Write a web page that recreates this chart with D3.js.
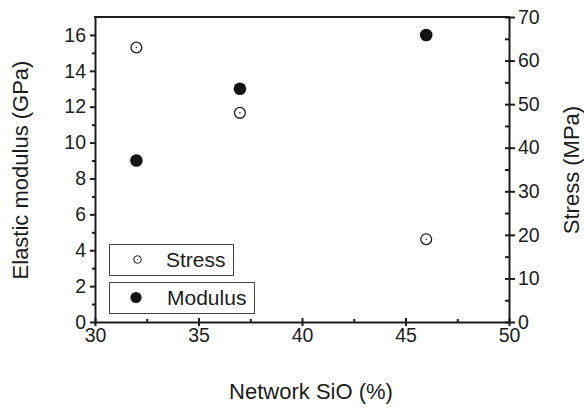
<!DOCTYPE html>
<html>
<head>
<meta charset="utf-8">
<script src="https://cdn.jsdelivr.net/npm/d3@7"></script>
<style>
  html, body { margin: 0; padding: 0; background: #fff; }
  svg { display: block; font-family: "Liberation Sans", Arial, Helvetica, sans-serif; }
</style>
</head>
<body>
<svg id="chart" width="584" height="408"></svg>
<script>
// Network SiO content (%) of each sample
const networkSiO = [32, 37, 46];
// Elastic modulus (GPa), left axis
const modulus = [9, 13, 16];
// Stress (MPa), right axis
const stress = [63, 48, 19];

const xTicks = [30, 35, 40, 45, 50];
const xMinor = [32.5, 37.5, 42.5, 47.5];
const yLeftTicks = [0, 2, 4, 6, 8, 10, 12, 14, 16];
const yLeftMinor = [1, 3, 5, 7, 9, 11, 13, 15];
const yRightTicks = [0, 10, 20, 30, 40, 50, 60, 70];
const yRightMinor = [5, 15, 25, 35, 45, 55, 65];
const legendLabels = ["Stress", "Modulus"];

const ink = "#1c1c1c";
const svg = d3.select("#chart");

const plot = { left: 95, right: 509, top: 17, bottom: 322 };

const x = d3.scaleLinear().domain([30, 50]).range([plot.left, plot.right]);
const yL = d3.scaleLinear().domain([0, 17]).range([plot.bottom, plot.top]);
const yR = d3.scaleLinear().domain([0, 70]).range([plot.bottom, plot.top]);

function styleAxis(g, showDomain) {
  g.selectAll(".domain").attr("stroke", ink).attr("stroke-width", 2)
    .attr("display", showDomain ? null : "none");
  g.selectAll(".tick line").attr("stroke", ink).attr("stroke-width", 2);
  g.selectAll(".tick text").attr("fill", ink)
    .style("font-size", "19.5px")
    .style("font-family", "'Liberation Sans', Arial, Helvetica, sans-serif");
}

// bottom axis: major ticks cross the axis line, minor ticks point inward
svg.append("g").attr("transform", `translate(0,${plot.bottom})`)
  .call(d3.axisBottom(x).tickValues(xTicks).tickSize(4).tickSizeOuter(0).tickPadding(2))
  .call(g => styleAxis(g, true));
svg.append("g").attr("transform", `translate(0,${plot.bottom})`)
  .call(d3.axisBottom(x).tickValues(xTicks).tickSize(-4).tickFormat(""))
  .call(g => styleAxis(g, false));
svg.append("g").attr("transform", `translate(0,${plot.bottom})`)
  .call(d3.axisBottom(x).tickValues(xMinor).tickSize(-3).tickFormat(""))
  .call(g => styleAxis(g, false));

// left axis: ticks point outward
svg.append("g").attr("transform", `translate(${plot.left},0)`)
  .call(d3.axisLeft(yL).tickValues(yLeftTicks).tickSize(5).tickSizeOuter(0).tickPadding(4))
  .call(g => styleAxis(g, true));
svg.append("g").attr("transform", `translate(${plot.left},0)`)
  .call(d3.axisLeft(yL).tickValues(yLeftMinor).tickSize(3).tickFormat(""))
  .call(g => styleAxis(g, false));

// right axis: major ticks cross, minor ticks point inward
svg.append("g").attr("transform", `translate(${plot.right},0)`)
  .call(d3.axisRight(yR).tickValues(yRightTicks).tickSize(6).tickSizeOuter(0).tickPadding(3))
  .call(g => styleAxis(g, true));
svg.append("g").attr("transform", `translate(${plot.right},0)`)
  .call(d3.axisRight(yR).tickValues(yRightTicks).tickSize(-4).tickFormat(""))
  .call(g => styleAxis(g, false));
svg.append("g").attr("transform", `translate(${plot.right},0)`)
  .call(d3.axisRight(yR).tickValues(yRightMinor).tickSize(-4).tickFormat(""))
  .call(g => styleAxis(g, false));

// top frame line
svg.append("line")
  .attr("x1", plot.left - 1).attr("x2", plot.right + 1)
  .attr("y1", plot.top).attr("y2", plot.top)
  .attr("stroke", ink).attr("stroke-width", 2);

// axis titles
svg.append("text")
  .attr("x", 311).attr("y", 399)
  .attr("text-anchor", "middle")
  .attr("fill", ink).style("font-size", "22px")
  .text("Network SiO (%)");

svg.append("text")
  .attr("transform", "translate(28,170) rotate(-90)")
  .attr("text-anchor", "middle")
  .attr("fill", ink).style("font-size", "22px")
  .text("Elastic modulus (GPa)");

svg.append("text")
  .attr("transform", "translate(579,170) rotate(-90)")
  .attr("text-anchor", "middle")
  .attr("fill", ink).style("font-size", "22px")
  .text("Stress (MPa)");

// modulus points (filled)
svg.append("g").selectAll("circle")
  .data(networkSiO.map((s, i) => ({ s, v: modulus[i] })))
  .join("circle")
  .attr("cx", d => x(d.s)).attr("cy", d => yL(d.v))
  .attr("r", 6.3).attr("fill", "#141414");

// stress points (open circle with centre dot)
const stressPts = svg.append("g").selectAll("g")
  .data(networkSiO.map((s, i) => ({ s, v: stress[i] })))
  .join("g")
  .attr("transform", d => `translate(${x(d.s)},${yR(d.v)})`);
stressPts.append("circle").attr("r", 5.4)
  .attr("fill", "#fff").attr("stroke", ink).attr("stroke-width", 1.3);
stressPts.append("circle").attr("r", 0.8).attr("fill", ink);

// legend boxes
const legendBoxes = [
  { x: 109, y: 244, w: 124, h: 31, mx: 137.5, tx: 166 },
  { x: 109, y: 282, w: 145, h: 31, mx: 136, tx: 167 }
];
const leg = svg.append("g").selectAll("g")
  .data(legendLabels.map((label, i) => ({ label, ...legendBoxes[i] })))
  .join("g");
leg.append("rect")
  .attr("x", d => d.x + 0.5).attr("y", d => d.y + 0.5)
  .attr("width", d => d.w).attr("height", d => d.h)
  .attr("fill", "#fff").attr("stroke", "#444").attr("stroke-width", 1);
leg.append("text")
  .attr("x", d => d.tx).attr("y", d => d.y + d.h / 2 + 7.5)
  .attr("fill", ink).style("font-size", "21px")
  .text(d => d.label);

const legStress = leg.filter(d => d.label === "Stress");
legStress.append("circle")
  .attr("cx", d => d.mx).attr("cy", d => d.y + d.h / 2)
  .attr("r", 3.8).attr("fill", "#fff").attr("stroke", ink).attr("stroke-width", 1);
legStress.append("circle")
  .attr("cx", d => d.mx).attr("cy", d => d.y + d.h / 2)
  .attr("r", 0.6).attr("fill", ink);

leg.filter(d => d.label === "Modulus").append("circle")
  .attr("cx", d => d.mx).attr("cy", d => d.y + d.h / 2)
  .attr("r", 5.6).attr("fill", "#141414");
</script>
</body>
</html>
